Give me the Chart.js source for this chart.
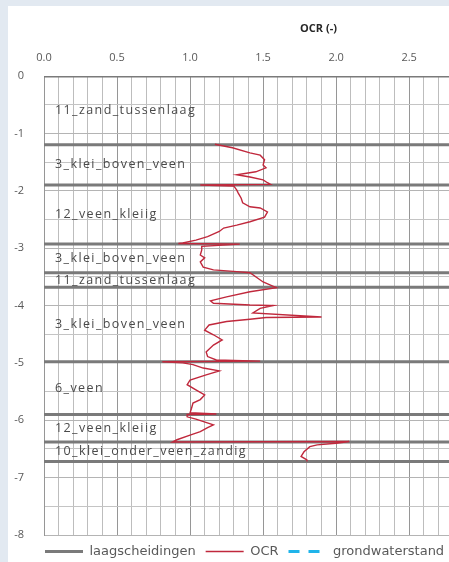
<!DOCTYPE html>
<html>
<head>
<meta charset="utf-8">
<script src="https://cdn.jsdelivr.net/npm/chart.js@4/dist/chart.umd.min.js"></script>
<style>
  html, body { margin: 0; padding: 0; width: 449px; height: 562px; overflow: hidden; background: #e2e9f1; }
  #box { position: absolute; left: 8px; top: 6px; width: 640px; height: 562px; background: #ffffff; }
  canvas { display: block; }
</style>
</head>
<body>
<div id="box"><canvas id="chart" width="640" height="562"></canvas></div>
<script>
// Depth (m) of each layer boundary, top to bottom
const layerBounds = [0, -1.20, -1.90, -2.93, -3.43, -3.68, -4.98, -5.90, -6.38, -6.72];
// Soil layer names between consecutive boundaries
const layerNames = [
  '11_zand_tussenlaag', '3_klei_boven_veen', '12_veen_kleiig', '3_klei_boven_veen',
  '11_zand_tussenlaag', '3_klei_boven_veen', '6_veen', '12_veen_kleiig', '10_klei_onder_veen_zandig'
];
// OCR profile: depth (m) and OCR (-)
const ocrDepth = [
  -1.19, -1.25, -1.34, -1.38, -1.46, -1.55, -1.60, -1.67, -1.72, -1.76, -1.81, -1.86, -1.89, -1.90, -1.92,
  -1.99, -2.04, -2.13, -2.21, -2.28, -2.30, -2.37, -2.46, -2.54, -2.60, -2.65, -2.71, -2.80, -2.86, -2.91,
  -2.92, -2.93, -2.97, -3.03, -3.12, -3.17, -3.24, -3.33, -3.38, -3.41, -3.43, -3.59, -3.69, -3.76, -3.85,
  -3.92, -3.96, -3.99, -4.00, -4.05, -4.13, -4.20, -4.21, -4.24, -4.28, -4.34, -4.43, -4.51, -4.60, -4.69,
  -4.81, -4.89, -4.95, -4.97, -4.98, -5.00, -5.03, -5.09, -5.14, -5.21, -5.30, -5.38, -5.47, -5.56, -5.64,
  -5.70, -5.79, -5.87, -5.89, -5.90, -5.94, -5.98, -6.08, -6.13, -6.20, -6.26, -6.34, -6.38, -6.37, -6.40,
  -6.43, -6.46, -6.55, -6.63, -6.69, -6.72
];
const ocrValue = [
  1.17, 1.29, 1.41, 1.48, 1.51, 1.50, 1.52, 1.45, 1.32, 1.41, 1.50, 1.53, 1.55, 1.07, 1.30,
  1.32, 1.33, 1.35, 1.36, 1.41, 1.48, 1.53, 1.51, 1.41, 1.32, 1.23, 1.20, 1.12, 1.04, 0.95,
  0.92, 1.34, 1.08, 1.08, 1.07, 1.10, 1.07, 1.09, 1.16, 1.32, 1.41, 1.50, 1.59, 1.41, 1.25,
  1.14, 1.16, 1.41, 1.57, 1.48, 1.43, 1.90, 1.52, 1.41, 1.25, 1.13, 1.10, 1.16, 1.22, 1.16,
  1.11, 1.12, 1.18, 1.48, 0.81, 0.95, 1.02, 1.09, 1.20, 1.11, 1.00, 0.98, 1.04, 1.10, 1.07,
  1.02, 1.01, 1.00, 1.18, 0.98, 0.98, 1.04, 1.16, 1.12, 1.07, 1.00, 0.91, 0.88, 2.09, 2.00,
  1.87, 1.82, 1.78, 1.76, 1.80, 1.80
];
// Groundwater level series (no points in this profile)
const groundwaterDepth = [];
const groundwaterValue = [];

// Axis ranges and grid spacing (major / minor)
const X_MIN = 0, X_MAX = 4, X_MAJOR = 0.5, X_MINOR = 0.1;
const Y_MIN = -8, Y_MAX = 0, Y_MAJOR = 1, Y_MINOR = 0.5;

const FONT = "'Open Sans', 'DejaVu Sans', sans-serif";

const boundaryPoints = [];
layerBounds.forEach(d => {
  boundaryPoints.push({ x: X_MIN, y: d }, { x: X_MAX, y: d }, { x: null, y: null });
});
const ocrPoints = ocrDepth.map((d, i) => ({ x: ocrValue[i], y: d }));
const gwPoints = groundwaterDepth.map((d, i) => ({ x: groundwaterValue[i], y: d }));

const near = (v, step) => Math.abs(v / step - Math.round(v / step)) < 1e-6;

// Builds every minor tick explicitly so each gets a grid line
function minorTicks(scale, lo, hi, step) {
  const n = Math.round((hi - lo) / step);
  scale.ticks = [];
  for (let i = 0; i <= n; i++) scale.ticks.push({ value: +(lo + i * step).toFixed(6) });
}

// Writes each layer name at the middle of its layer
const layerLabels = {
  id: 'layerLabels',
  afterDatasetsDraw(chart) {
    const { ctx, chartArea, scales } = chart;
    ctx.save();
    ctx.font = `12.5px ${FONT}`;
    if ('letterSpacing' in ctx) ctx.letterSpacing = '1.4px';
    ctx.fillStyle = '#4a4a4a';
    ctx.textAlign = 'left';
    ctx.textBaseline = 'middle';
    layerNames.forEach((name, i) => {
      const mid = (layerBounds[i] + layerBounds[i + 1]) / 2;
      ctx.fillText(name, chartArea.left + 11, scales.y.getPixelForValue(mid));
    });
    ctx.restore();
  }
};

// Lines the legend up with the plot's left edge
const legendOffset = {
  id: 'legendOffset',
  afterLayout(chart) {
    if (chart.legend) {
      chart.legend.left += 27;
      chart.legend.right += 27;
    }
  }
};

new Chart(document.getElementById('chart'), {
  type: 'scatter',
  data: {
    datasets: [
      {
        label: 'laagscheidingen', data: boundaryPoints, showLine: true, spanGaps: false,
        borderColor: '#7a7a7a', backgroundColor: '#7a7a7a', borderWidth: 3, pointRadius: 0, order: 1
      },
      {
        label: 'OCR', data: ocrPoints, showLine: true,
        borderColor: '#c0283c', backgroundColor: '#c0283c', borderWidth: 1.4, pointRadius: 0, order: 0
      },
      {
        label: 'grondwaterstand', data: gwPoints, showLine: true,
        borderColor: '#1fb4ea', backgroundColor: '#1fb4ea', borderWidth: 3, borderDash: [11, 9], pointRadius: 0, order: 0
      }
    ]
  },
  options: {
    responsive: false,
    animation: false,
    events: [],
    layout: { padding: { left: 0, right: 19, top: 0, bottom: 0 } },
    scales: {
      x: {
        type: 'linear', position: 'top', min: X_MIN, max: X_MAX,
        afterBuildTicks(s) { minorTicks(s, X_MIN, X_MAX, X_MINOR); },
        afterFit(s) { s.height = 35.8; },
        ticks: {
          padding: 12, autoSkip: false, maxRotation: 0, minRotation: 0,
          color: '#595959', font: { family: FONT, size: 11 },
          callback: v => near(v, X_MAJOR) ? v.toFixed(1) : ''
        },
        grid: {
          drawTicks: false,
          color: c => near(c.tick.value, X_MAJOR) ? '#969696' : '#bdbdbd',
          lineWidth: 1
        },
        border: { display: false }
      },
      y: {
        type: 'linear', min: Y_MIN, max: Y_MAX,
        afterBuildTicks(s) { minorTicks(s, Y_MIN, Y_MAX, Y_MINOR); },
        afterFit(s) { s.width = 36; },
        ticks: {
          padding: 20, autoSkip: false,
          color: '#595959', font: { family: FONT, size: 11 },
          callback: v => near(v, Y_MAJOR) ? String(Math.round(v)) : ''
        },
        grid: {
          drawTicks: false,
          color: c => near(c.tick.value, Y_MAJOR) ? '#b4b4b4' : '#c4c4c4',
          lineWidth: 1
        },
        border: { display: true, color: '#969696' }
      }
    },
    plugins: {
      title: {
        display: true, text: 'OCR (-)', color: '#262626',
        font: { family: FONT, size: 11, weight: 'bold' },
        padding: { top: 16, bottom: 5 }
      },
      legend: {
        position: 'bottom', align: 'start',
        labels: {
          usePointStyle: true, pointStyleWidth: 38, padding: 10,
          color: '#595959', font: { family: "'DejaVu Sans', sans-serif", size: 13 },
          generateLabels: chart => chart.data.datasets.map((ds, i) => ({
            text: ds.label, strokeStyle: ds.borderColor, fillStyle: ds.borderColor,
            lineWidth: ds.borderWidth, lineDash: ds.borderDash || [], pointStyle: 'line',
            fontColor: '#595959', hidden: false, datasetIndex: i
          }))
        }
      },
      tooltip: { enabled: false }
    }
  },
  plugins: [layerLabels, legendOffset]
});
</script>
</body>
</html>
